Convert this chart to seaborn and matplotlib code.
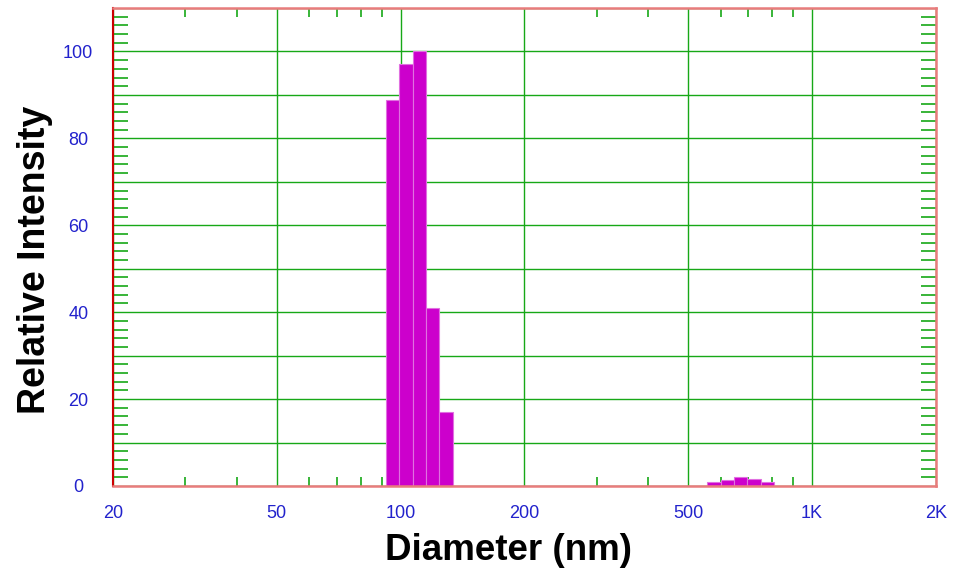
import numpy as np
import pandas as pd
import seaborn as sns
import matplotlib
matplotlib.use("Agg")
import matplotlib.pyplot as plt
from matplotlib.ticker import FixedLocator, FixedFormatter, MultipleLocator, FuncFormatter

# --- data (bin centres in nm, relative intensity) ---
diameter_nm = [95.6, 103.3, 111.6, 120.3, 129.6, 573, 620, 671, 725, 782]
intensity   = [88.9, 97.2, 100.0, 41.0, 17.0, 0.85, 1.45, 2.0, 1.5, 0.85]

x_major = [20, 50, 100, 200, 500, 1000, 2000]
x_labels = ["20", "50", "100", "200", "500", "1K", "2K"]
x_minor = [30, 40, 60, 70, 80, 90, 300, 400, 600, 700, 800, 900]

df = pd.DataFrame({"Diameter": diameter_nm, "Intensity": intensity})

sns.set_style("white")
plt.rcParams["font.family"] = ["Liberation Sans", "DejaVu Sans"]

BAR    = "#cc00cc"
GRID   = "#17a817"
TICKC  = "#2222cc"
SPINE  = "#e87c7c"

fig = plt.figure(figsize=(9.59, 5.76), dpi=100)
ax = fig.add_axes([0.1178, 0.15625, 0.8582, 0.82986])

# log-spaced bins (log10 units), same width for both clusters
sns.histplot(
    data=df, x="Diameter", weights="Intensity",
    log_scale=True, binwidth=0.03256, binrange=(1.9638, 2.9081),
    color=BAR, alpha=1.0, edgecolor="#e070e0", linewidth=0.8,
    ax=ax, zorder=3,
)

ax.set_xlim(20, 2000)
ax.set_ylim(0, 110)

# x ticks
ax.xaxis.set_major_locator(FixedLocator(x_major))
ax.xaxis.set_major_formatter(FixedFormatter(x_labels))
ax.xaxis.set_minor_locator(FixedLocator(x_minor))
ax.xaxis.set_minor_formatter(FixedFormatter([""] * len(x_minor)))

# y ticks
ax.yaxis.set_major_locator(MultipleLocator(10))
ax.yaxis.set_minor_locator(MultipleLocator(2))
ax.yaxis.set_major_formatter(FuncFormatter(lambda v, p: f"{int(v)}" if int(round(v)) % 20 == 0 and v <= 100 else ""))

ax.grid(True, which="major", color=GRID, linewidth=1.0, zorder=1)
ax.set_axisbelow(True)

ax.tick_params(axis="x", which="major", length=0, pad=14, labelsize=13, labelcolor=TICKC)
ax.tick_params(axis="x", which="minor", direction="in", length=6.5, width=1.2,
               color=GRID, top=True, bottom=True)
ax.tick_params(axis="y", which="major", length=0, pad=25, labelsize=13, labelcolor=TICKC)
ax.tick_params(axis="y", which="minor", direction="in", length=11, width=1.2,
               color=GRID, left=True, right=True)
for t in ax.get_yticklabels():
    t.set_horizontalalignment("center")
    t.set_verticalalignment("center_baseline")

for side in ["top", "right", "bottom"]:
    ax.spines[side].set_color(SPINE)
    ax.spines[side].set_linewidth(1.8)
ax.spines["left"].set_color("#cc0000")
ax.spines["left"].set_linewidth(1.5)
for s in ax.spines.values():
    s.set_zorder(5)

ax.set_xlabel("Diameter (nm)", fontsize=26.5, fontweight="bold", color="black")
ax.set_ylabel("Relative Intensity", fontsize=27, fontweight="bold", color="black")
ax.xaxis.set_label_coords(0.481, -0.098)
ax.yaxis.set_label_coords(-0.073, 0.473)

fig.savefig("out.png", dpi=100)
plt.close()
